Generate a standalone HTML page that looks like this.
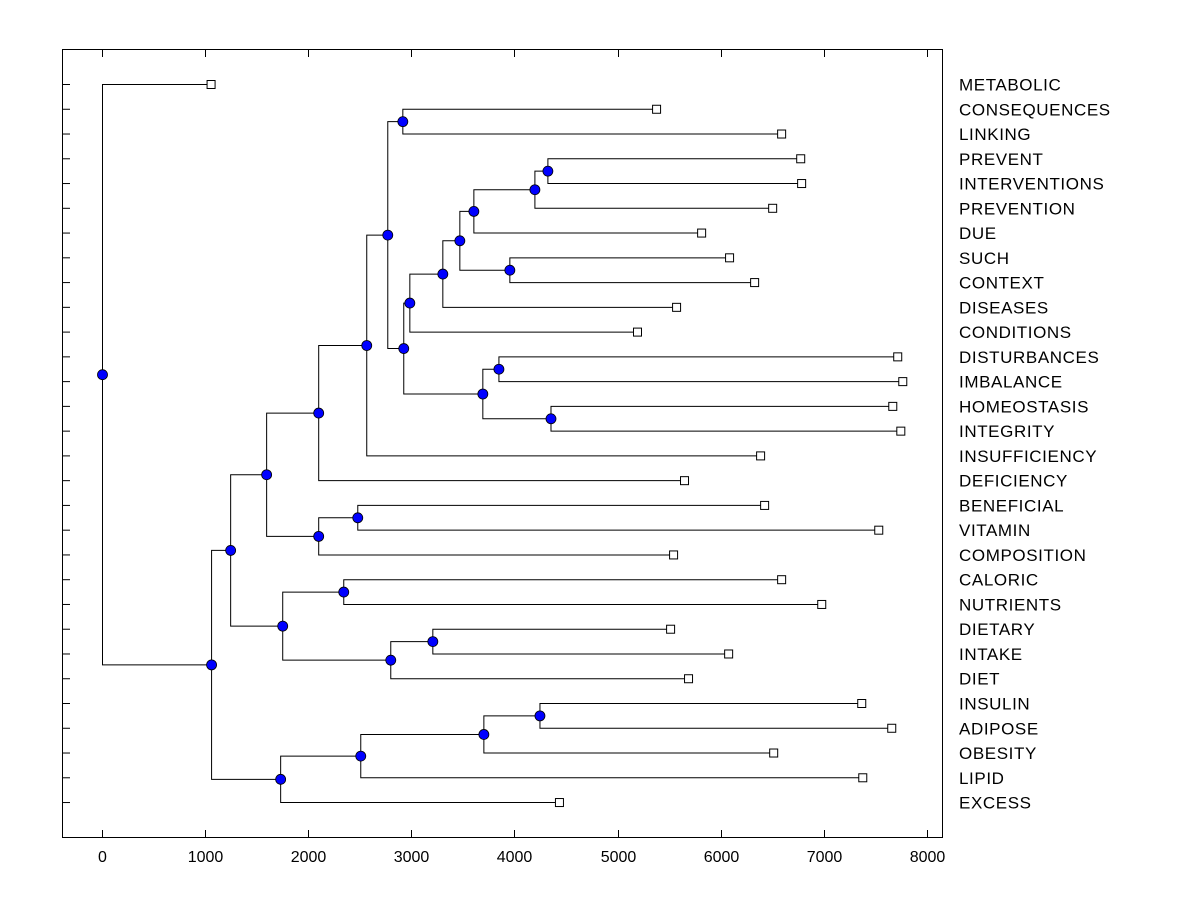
<!DOCTYPE html>
<html><head><meta charset="utf-8"><style>
body{margin:0;background:#fff;}
svg text{font-family:"Liberation Sans",Arial,sans-serif;font-size:16px;fill:#000;}
svg text.lbl{font-size:17px;letter-spacing:0.6px;}
</style></head><body>
<svg id="chart" width="1200" height="900" xmlns="http://www.w3.org/2000/svg">
<rect x="62.5" y="49.5" width="880" height="788" fill="none" stroke="#000" stroke-width="1"/>
<g id="g"></g>
</svg>
<script>
const leafNames=["METABOLIC","CONSEQUENCES","LINKING","PREVENT","INTERVENTIONS","PREVENTION","DUE","SUCH","CONTEXT","DISEASES","CONDITIONS","DISTURBANCES","IMBALANCE","HOMEOSTASIS","INTEGRITY","INSUFFICIENCY","DEFICIENCY","BENEFICIAL","VITAMIN","COMPOSITION","CALORIC","NUTRIENTS","DIETARY","INTAKE","DIET","INSULIN","ADIPOSE","OBESITY","LIPID","EXCESS"];
const leafValues=[1058,5379,6592,6777,6786,6505,5816,6087,6330,5573,5194,7718,7767,7670,7748,6388,5650,6427,7534,5544,6592,6981,5515,6078,5689,7369,7660,6515,7379,4437];
const mergeLeft=[3,30,31,7,32,34,35,11,13,37,36,1,41,42,43,17,45,44,20,22,49,48,47,25,53,54,55,52,0];
const mergeRight=[4,5,6,8,33,9,10,12,14,38,39,2,40,15,16,18,19,46,21,23,24,50,51,26,27,28,29,56,57];
const mergeHeight=[4320,4194,3602,3951,3466,3301,2981,3845,4350,3689,2922,2913,2767,2563,2097,2476,2097,1592,2340,3204,2796,1748,1243,4243,3699,2505,1728,1058,0];
const xTicks=[0,1000,2000,3000,4000,5000,6000,7000,8000];

const NS="http://www.w3.org/2000/svg";
const g=document.getElementById('g');
const xs=v=>102+v*0.1031;
const ys=i=>84+i*24.76;
function mk(t,a){const e=document.createElementNS(NS,t);for(const k in a)e.setAttribute(k,a[k]);g.appendChild(e);return e;}
const nx=[],ny=[];
leafNames.forEach((n,i)=>{nx[i]=xs(leafValues[i]);ny[i]=ys(i);});
mergeHeight.forEach((h,k)=>{const id=30+k;nx[id]=xs(h);ny[id]=(ny[mergeLeft[k]]+ny[mergeRight[k]])/2;});
mergeHeight.forEach((h,k)=>{
  const id=30+k,a=mergeLeft[k],b=mergeRight[k];
  const p=mk('path',{d:`M${nx[a]} ${ny[a]+0.5}H${nx[id]+0.5}V${ny[b]+0.5}H${nx[b]}`,fill:'none',stroke:'#000','stroke-width':1});
  
  
});
leafNames.forEach((n,i)=>{
  const t=mk('line',{x1:62,x2:70,y1:ny[i]+0.5,y2:ny[i]+0.5,stroke:'#000'});
  
  
  const r=mk('rect',{x:nx[i]-4,y:ny[i]-3.5,width:8,height:8,fill:'#fff',stroke:'#000'});
  
  
  const l=mk('text',{x:959,y:ny[i]+6.5,'class':'lbl'});
  l.textContent=n;
  
  
});
mergeHeight.forEach((h,k)=>{
  const id=30+k;
  const c=mk('circle',{cx:nx[id]+0.5,cy:ny[id]+0.5,r:5,fill:'#0000ff',stroke:'#000','stroke-width':0.8});
  
  
});
xTicks.forEach(v=>{
  const x=Math.round(xs(v))+0.5;
  const a=mk('line',{x1:x,x2:x,y1:49,y2:57,stroke:'#000'});
  
  
  const b=mk('line',{x1:x,x2:x,y1:830,y2:838,stroke:'#000'});
  
  
  const t=mk('text',{x:x,y:862,'text-anchor':'middle'});
  t.textContent=v;
  
  
});
</script>
</body></html>
